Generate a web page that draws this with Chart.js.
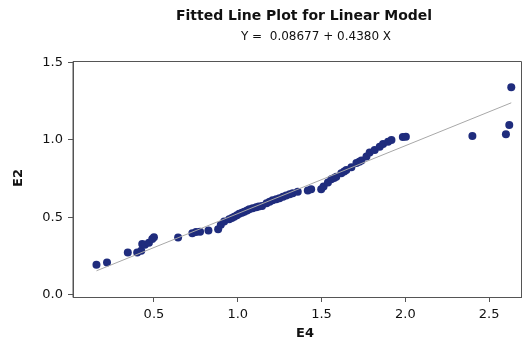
<!DOCTYPE html>
<html>
<head>
<meta charset="utf-8">
<script src="https://cdn.jsdelivr.net/npm/chart.js@4.4.0/dist/chart.umd.min.js"></script>
<style>
  html, body { margin: 0; padding: 0; background: #fff; }
  #wrap { width: 526px; height: 347px; }
</style>
</head>
<body>
<div id="wrap"><canvas id="fitChart" width="526" height="347"></canvas></div>
<script>
// values
const e4 = [0.157, 0.220, 0.344, 0.400, 0.424, 0.430, 0.446, 0.470, 0.490, 0.500,
  0.644, 0.729, 0.751, 0.775, 0.825, 0.883, 0.899, 0.919, 0.949, 0.965,
  0.979, 0.995, 1.009, 1.025, 1.039, 1.055, 1.069, 1.089, 1.110, 1.125,
  1.145, 1.172, 1.190, 1.208, 1.230, 1.249, 1.270, 1.289, 1.310, 1.328,
  1.358, 1.418, 1.438, 1.498, 1.512, 1.538, 1.558, 1.575, 1.588, 1.618,
  1.635, 1.648, 1.678, 1.708, 1.725, 1.738, 1.768, 1.787, 1.817, 1.847,
  1.867, 1.897, 1.917, 1.985, 2.003, 2.400, 2.600, 2.620, 2.632];
const e2 = [0.194, 0.208, 0.273, 0.273, 0.284, 0.329, 0.323, 0.337, 0.361, 0.372,
  0.371, 0.398, 0.406, 0.408, 0.415, 0.424, 0.452, 0.473, 0.488, 0.496,
  0.505, 0.514, 0.523, 0.530, 0.537, 0.545, 0.553, 0.559, 0.566, 0.570,
  0.574, 0.592, 0.601, 0.610, 0.617, 0.624, 0.633, 0.642, 0.650, 0.656,
  0.666, 0.673, 0.682, 0.682, 0.699, 0.725, 0.746, 0.755, 0.763, 0.785,
  0.796, 0.806, 0.824, 0.852, 0.860, 0.868, 0.894, 0.919, 0.935, 0.957,
  0.974, 0.989, 1.000, 1.019, 1.021, 1.026, 1.037, 1.097, 1.340];
// fitted line end points: Y = 0.08677 + 0.4380 X
const fitX = [0.157, 2.632];
const fitY = [0.155, 1.240];
const xTicks = [0.5, 1.0, 1.5, 2.0, 2.5];
const yTicks = [0.0, 0.5, 1.0, 1.5];
const titleText = 'Fitted Line Plot for Linear Model';
const subText = 'Y =  0.08677 + 0.4380 X';

const pts = e4.map((x, i) => ({ x: x, y: e2[i] }));
const fitPts = fitX.map((x, i) => ({ x: x, y: fitY[i] }));

const axisColor = '#555555';
const fontFam = '"DejaVu Sans", Verdana, sans-serif';

// title, subtitle, axis titles and the box round the plot
const textPlugin = {
  id: 'textPlugin',
  afterDraw(chart) {
    const c = chart.ctx, a = chart.chartArea;
    c.save();
    c.strokeStyle = axisColor;
    c.lineWidth = 1;
    c.beginPath();
    c.moveTo(a.left, a.bottom + 0.5);
    c.lineTo(a.left, a.top + 0.5);
    c.lineTo(a.right + 0.5, a.top + 0.5);
    c.lineTo(a.right + 0.5, a.bottom + 0.5);
    c.stroke();
    c.fillStyle = '#111';
    c.textAlign = 'center';
    c.textBaseline = 'middle';
    c.font = 'bold 14px ' + fontFam;
    c.fillText(titleText, 304, 16);
    c.font = '12px ' + fontFam;
    c.fillText(subText, 316, 37);
    c.font = 'bold 13px ' + fontFam;
    c.fillText('E4', 305, 334);
    c.translate(19, 178);
    c.rotate(-Math.PI / 2);
    c.fillText('E2', 0, 0);
    c.restore();
  }
};

const ctx = document.getElementById('fitChart').getContext('2d');
const fitChart = new Chart(ctx, {
  type: 'scatter',
  data: {
    datasets: [
      {
        label: 'fit',
        type: 'line',
        data: fitPts,
        borderColor: '#a8a8a8',
        borderWidth: 1,
        pointRadius: 0,
        fill: false
      },
      {
        label: 'E2',
        data: pts,
        backgroundColor: '#1f2c7d',
        borderColor: '#1f2c7d',
        pointRadius: 4,
        borderWidth: 0
      }
    ]
  },
  options: {
    responsive: false,
    animation: false,
    layout: { padding: { left: 0, right: 5, top: 61, bottom: 0 } },
    scales: {
      x: {
        type: 'linear',
        min: 0.017,
        max: 2.69,
        afterFit(scale) { scale.height = 50; },
        afterBuildTicks(scale) { scale.ticks = xTicks.map(v => ({ value: v })); },
        grid: { display: true, drawOnChartArea: false, drawTicks: true, tickLength: 5, color: axisColor },
        border: { display: true, color: axisColor },
        ticks: {
          padding: 5,
          color: '#111',
          font: { family: fontFam, size: 13 },
          callback: v => v.toFixed(1)
        }
      },
      y: {
        type: 'linear',
        min: -0.014,
        max: 1.51,
        afterFit(scale) { scale.width = 73; },
        afterBuildTicks(scale) { scale.ticks = yTicks.map(v => ({ value: v })); },
        grid: { display: true, drawOnChartArea: false, drawTicks: true, tickLength: 5, color: axisColor },
        border: { display: true, color: axisColor },
        ticks: {
          padding: 5,
          color: '#111',
          font: { family: fontFam, size: 13 },
          callback: v => v.toFixed(1)
        }
      }
    },
    plugins: {
      legend: { display: false },
      tooltip: { enabled: false }
    }
  },
  plugins: [textPlugin]
});
</script>
</body>
</html>
